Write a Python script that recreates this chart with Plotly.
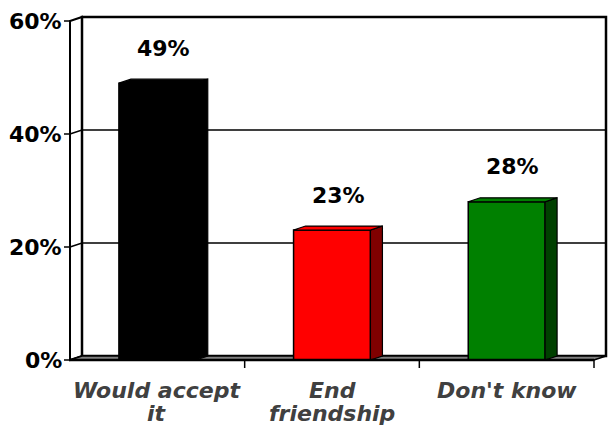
import plotly.graph_objects as go

# ---- data ----
category_lines = [["Would accept", "it"], ["End", "friendship"], ["Don't know"]]
values = [49, 23, 28]
y_ticks = [0, 20, 40, 60]
front_colors = ["#000000", "#ff0000", "#008000"]
side_colors = ["#000000", "#800000", "#004000"]

# ---- geometry (pixels) ----
W, H = 613, 434
CAT_PX = 174.67          # width of one category on the front plane
Y_PX = 5.65              # pixels per percentage point
DEPTH_X, DEPTH_Y = 12, 4  # pseudo-3D depth offset (right, up)
LEFT, BOTTOM = 70, 74    # front-plane origin from the page edges
PAD_L, PAD_B, PAD_R, PAD_T = 10, 10, 4, 6  # room so edge lines are not clipped
BAR_W = 0.44
Y_MAX = y_ticks[-1]

FONT = "DejaVu Sans"
FONT_SIZE = 22
LABEL_GREY = "#404040"

n = len(values)
dx = DEPTH_X / CAT_PX
dy = DEPTH_Y / Y_PX
x0, x1 = -0.5, n - 0.5

plot_w = n * CAT_PX + DEPTH_X + PAD_L + PAD_R
plot_h = Y_MAX * Y_PX + DEPTH_Y + PAD_B + PAD_T
m_l = LEFT - PAD_L
m_b = BOTTOM - PAD_B
m_r = W - m_l - plot_w
m_t = H - m_b - plot_h

fig = go.Figure()

shapes = []
# left side wall
shapes.append(dict(type="path", xref="x", yref="y", layer="below",
                   path=f"M {x0},0 L {x0},{Y_MAX} L {x0+dx},{Y_MAX+dy} L {x0+dx},{dy} Z",
                   fillcolor="white", line=dict(color="black", width=2)))
# back wall
shapes.append(dict(type="rect", xref="x", yref="y", layer="below",
                   x0=x0 + dx, x1=x1 + dx, y0=dy, y1=Y_MAX + dy,
                   fillcolor="white", line=dict(color="black", width=2.5)))
# gridlines: across the side wall and along the back wall
for v in y_ticks[1:-1]:
    shapes.append(dict(type="path", xref="x", yref="y", layer="below",
                       path=f"M {x0},{v} L {x0+dx},{v+dy} L {x1+dx},{v+dy}",
                       line=dict(color="black", width=1.5)))
# floor
shapes.append(dict(type="path", xref="x", yref="y", layer="below",
                   path=f"M {x0},0 L {x1},0 L {x1+dx},{dy} L {x0+dx},{dy} Z",
                   fillcolor="#808080", line=dict(color="black", width=1.5)))
# front value axis line and front category axis line
shapes.append(dict(type="line", xref="x", yref="y", layer="below",
                   x0=x0, x1=x0, y0=0, y1=Y_MAX, line=dict(color="black", width=2)))
shapes.append(dict(type="line", xref="x", yref="y", layer="above",
                   x0=x0, x1=x1, y0=0, y1=0, line=dict(color="black", width=2.5)))
# value-axis ticks
for v in y_ticks:
    shapes.append(dict(type="line", xref="x", yref="y", layer="above",
                       x0=x0 - 6 / CAT_PX, x1=x0, y0=v, y1=v,
                       line=dict(color="black", width=1.5)))
# category-axis ticks at the category boundaries
for k in range(1, n + 1):
    b = k - 0.5
    shapes.append(dict(type="line", xref="x", yref="y", layer="above",
                       x0=b, x1=b, y0=0, y1=-8 / Y_PX,
                       line=dict(color="black", width=1.5)))

# top and side faces of each column
for i, v in enumerate(values):
    l, r = i - BAR_W / 2, i + BAR_W / 2
    fig.add_trace(go.Scatter(
        x=[r, r + dx, r + dx, r, r], y=[0, dy, v + dy, v, 0],
        mode="lines", fill="toself", fillcolor=side_colors[i],
        line=dict(color="black", width=1.2), hoverinfo="skip", showlegend=False))
    fig.add_trace(go.Scatter(
        x=[l, r, r + dx, l + dx, l], y=[v, v, v + dy, v + dy, v],
        mode="lines", fill="toself", fillcolor=front_colors[i],
        line=dict(color="black", width=1.2), hoverinfo="skip", showlegend=False))

# front faces
fig.add_trace(go.Bar(
    x=list(range(n)), y=values, width=BAR_W,
    marker=dict(color=front_colors, line=dict(color="black", width=1.5)),
    hoverinfo="skip", showlegend=False))

annotations = []
# value labels above the columns
for i, v in enumerate(values):
    annotations.append(dict(x=i + dx / 2, y=v, xref="x", yref="y",
                            text=f"{v}%", showarrow=False, yanchor="middle", yshift=35,
                            font=dict(family=FONT, size=FONT_SIZE, color="black",
                                      weight="bold")))
# value-axis tick labels
for v in y_ticks:
    annotations.append(dict(x=x0, y=v, xref="x", yref="y", text=f"{v}%",
                            showarrow=False, xanchor="right", yanchor="middle", xshift=-6,
                            font=dict(family=FONT, size=FONT_SIZE, color="black",
                                      weight="bold")))
# category labels
for i, lines in enumerate(category_lines):
    for j, line in enumerate(lines):
        annotations.append(dict(x=i, y=0, xref="x", yref="y", text=line,
                                showarrow=False, yanchor="middle", yshift=-(30 + 23 * j),
                                font=dict(family=FONT, size=FONT_SIZE, color=LABEL_GREY,
                                          weight="bold", style="italic")))

fig.update_layout(
    width=W, height=H,
    margin=dict(l=m_l, r=m_r, t=m_t, b=m_b, pad=0),
    paper_bgcolor="white", plot_bgcolor="white",
    shapes=shapes, annotations=annotations,
    showlegend=False, hovermode=False,
    xaxis=dict(range=[x0 - PAD_L / CAT_PX, x1 + dx + PAD_R / CAT_PX],
               visible=False, fixedrange=True),
    yaxis=dict(range=[-PAD_B / Y_PX, Y_MAX + dy + PAD_T / Y_PX],
               visible=False, fixedrange=True),
)

fig.write_html("out.html")
